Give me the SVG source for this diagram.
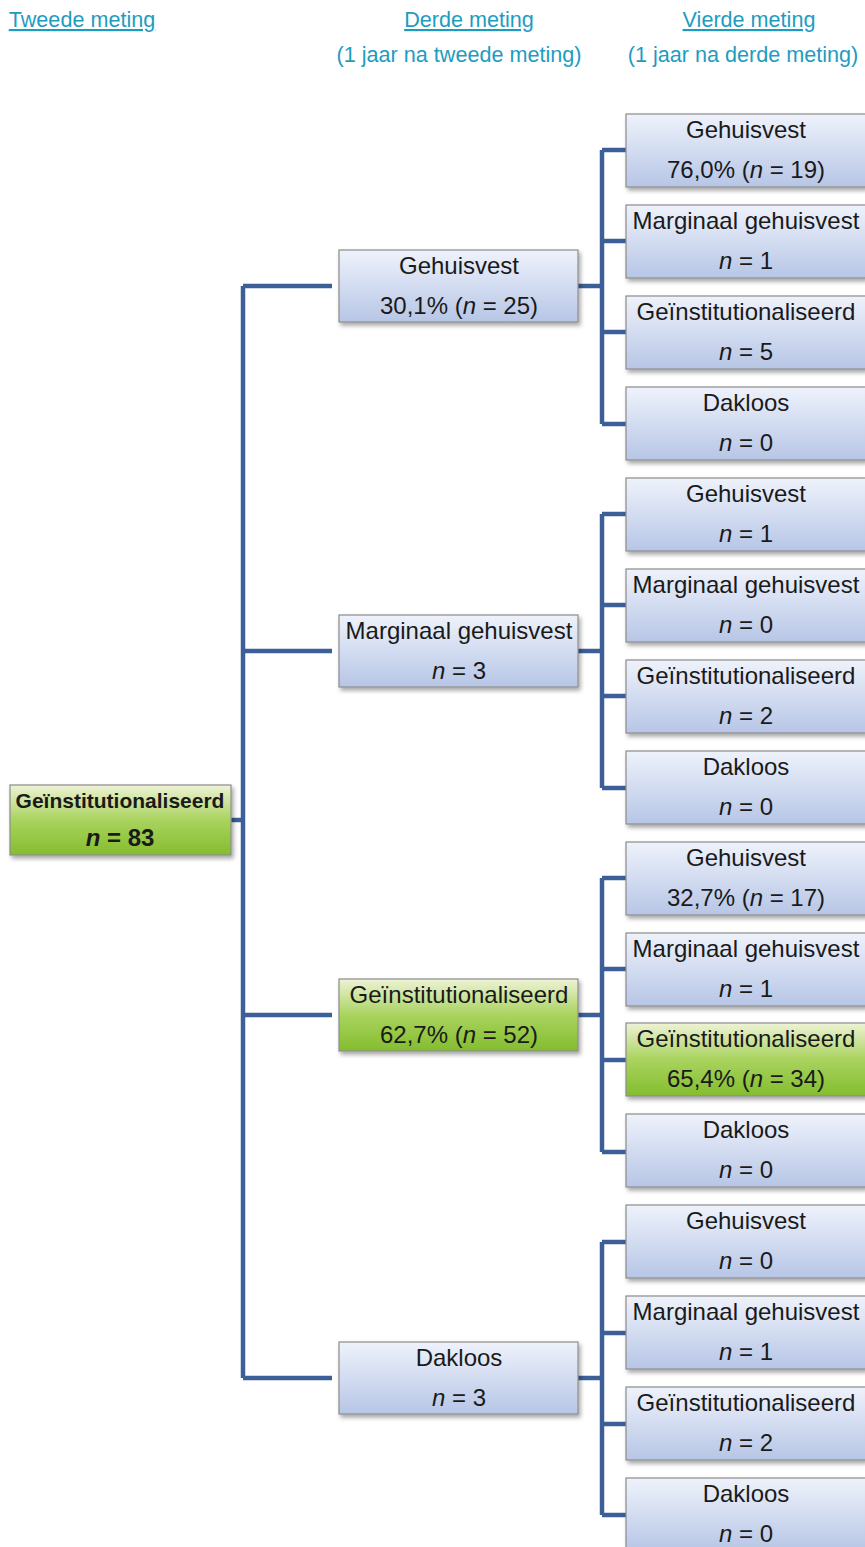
<svg xmlns="http://www.w3.org/2000/svg" width="865" height="1547" viewBox="0 0 865 1547">
<style>
.hd{font-family:"Liberation Sans",Arial,sans-serif;font-size:21.6px;fill:#1e9cc0;text-anchor:middle}
.u{text-decoration:underline}
.t{font-family:"Liberation Sans",Arial,sans-serif;font-size:24px;fill:#1a1a1a;text-anchor:middle}
.b{font-weight:bold}
.rt{font-size:21px}
.i{font-style:italic}
.box{stroke:#8c8c8c;stroke-width:1.2;filter:url(#sh)}
.blue{fill:url(#gb)}
.green{fill:url(#gg)}
.c{fill:none;stroke:#3c5f98;stroke-width:4.5}
</style>
<defs>
<linearGradient id="gb" x1="0" y1="0" x2="0" y2="1"><stop offset="0" stop-color="#eef2fb"/><stop offset="1" stop-color="#b7c6e6"/></linearGradient>
<linearGradient id="gg" x1="0" y1="0" x2="0" y2="1"><stop offset="0" stop-color="#eef3d6"/><stop offset="0.5" stop-color="#a9d35e"/><stop offset="1" stop-color="#84bd2e"/></linearGradient>
<filter id="sh" x="-5%" y="-5%" width="115%" height="125%"><feDropShadow dx="2" dy="3" stdDeviation="2" flood-color="#000" flood-opacity="0.35"/></filter>
</defs>
<rect width="865" height="1547" fill="#fff"/>
<g id="headers">
<text class="hd u" x="82" y="27">Tweede meting</text>
<text class="hd u" x="469" y="27">Derde meting</text>
<text class="hd" x="459" y="62">(1 jaar na tweede meting)</text>
<text class="hd u" x="749" y="27">Vierde meting</text>
<text class="hd" x="743" y="62">(1 jaar na derde meting)</text>
</g>
<g id="connectors">
<path class="c" d="M231 820H243M243 286V1378M243 286H332M243 651H332M243 1015H332M243 1378H332"/>
<path class="c" d="M578 286H602M602 150V424M602 150H626M602 241H626M602 332H626M602 424H626"/>
<path class="c" d="M578 651H602M602 514V788M602 514H626M602 605H626M602 696H626M602 788H626"/>
<path class="c" d="M578 1015H602M602 878V1152M602 878H626M602 969H626M602 1060H626M602 1152H626"/>
<path class="c" d="M578 1378H602M602 1242V1515M602 1242H626M602 1333H626M602 1424H626M602 1515H626"/>
</g>
<g id="root"><rect class="box green" x="10" y="785" width="221" height="70"/><text class="t b rt" x="120" y="808">Geïnstitutionaliseerd</text><text class="t b" x="120" y="846"><tspan class="i">n</tspan> = 83</text></g>
<g id="d1"><rect class="box blue" x="339" y="250" width="239" height="72"/><text class="t" x="459" y="274">Gehuisvest</text><text class="t" x="459" y="314">30,1% (<tspan class="i">n</tspan> = 25)</text></g>
<g id="d2"><rect class="box blue" x="339" y="615" width="239" height="72"/><text class="t" x="459" y="639">Marginaal gehuisvest</text><text class="t" x="459" y="679"><tspan class="i">n</tspan> = 3</text></g>
<g id="d3"><rect class="box green" x="339" y="979" width="239" height="72"/><text class="t" x="459" y="1003">Geïnstitutionaliseerd</text><text class="t" x="459" y="1043">62,7% (<tspan class="i">n</tspan> = 52)</text></g>
<g id="d4"><rect class="box blue" x="339" y="1342" width="239" height="72"/><text class="t" x="459" y="1366">Dakloos</text><text class="t" x="459" y="1406"><tspan class="i">n</tspan> = 3</text></g>
<g id="v1a"><rect class="box blue" x="626" y="114" width="240" height="73"/><text class="t" x="746" y="138">Gehuisvest</text><text class="t" x="746" y="178">76,0% (<tspan class="i">n</tspan> = 19)</text></g>
<g id="v1b"><rect class="box blue" x="626" y="205" width="240" height="73"/><text class="t" x="746" y="229">Marginaal gehuisvest</text><text class="t" x="746" y="269"><tspan class="i">n</tspan> = 1</text></g>
<g id="v1c"><rect class="box blue" x="626" y="296" width="240" height="73"/><text class="t" x="746" y="320">Geïnstitutionaliseerd</text><text class="t" x="746" y="360"><tspan class="i">n</tspan> = 5</text></g>
<g id="v1d"><rect class="box blue" x="626" y="387" width="240" height="73"/><text class="t" x="746" y="411">Dakloos</text><text class="t" x="746" y="451"><tspan class="i">n</tspan> = 0</text></g>
<g id="v2a"><rect class="box blue" x="626" y="478" width="240" height="73"/><text class="t" x="746" y="502">Gehuisvest</text><text class="t" x="746" y="542"><tspan class="i">n</tspan> = 1</text></g>
<g id="v2b"><rect class="box blue" x="626" y="569" width="240" height="73"/><text class="t" x="746" y="593">Marginaal gehuisvest</text><text class="t" x="746" y="633"><tspan class="i">n</tspan> = 0</text></g>
<g id="v2c"><rect class="box blue" x="626" y="660" width="240" height="73"/><text class="t" x="746" y="684">Geïnstitutionaliseerd</text><text class="t" x="746" y="724"><tspan class="i">n</tspan> = 2</text></g>
<g id="v2d"><rect class="box blue" x="626" y="751" width="240" height="73"/><text class="t" x="746" y="775">Dakloos</text><text class="t" x="746" y="815"><tspan class="i">n</tspan> = 0</text></g>
<g id="v3a"><rect class="box blue" x="626" y="842" width="240" height="73"/><text class="t" x="746" y="866">Gehuisvest</text><text class="t" x="746" y="906">32,7% (<tspan class="i">n</tspan> = 17)</text></g>
<g id="v3b"><rect class="box blue" x="626" y="933" width="240" height="73"/><text class="t" x="746" y="957">Marginaal gehuisvest</text><text class="t" x="746" y="997"><tspan class="i">n</tspan> = 1</text></g>
<g id="v3c"><rect class="box green" x="626" y="1023" width="240" height="73"/><text class="t" x="746" y="1047">Geïnstitutionaliseerd</text><text class="t" x="746" y="1087">65,4% (<tspan class="i">n</tspan> = 34)</text></g>
<g id="v3d"><rect class="box blue" x="626" y="1114" width="240" height="73"/><text class="t" x="746" y="1138">Dakloos</text><text class="t" x="746" y="1178"><tspan class="i">n</tspan> = 0</text></g>
<g id="v4a"><rect class="box blue" x="626" y="1205" width="240" height="73"/><text class="t" x="746" y="1229">Gehuisvest</text><text class="t" x="746" y="1269"><tspan class="i">n</tspan> = 0</text></g>
<g id="v4b"><rect class="box blue" x="626" y="1296" width="240" height="73"/><text class="t" x="746" y="1320">Marginaal gehuisvest</text><text class="t" x="746" y="1360"><tspan class="i">n</tspan> = 1</text></g>
<g id="v4c"><rect class="box blue" x="626" y="1387" width="240" height="73"/><text class="t" x="746" y="1411">Geïnstitutionaliseerd</text><text class="t" x="746" y="1451"><tspan class="i">n</tspan> = 2</text></g>
<g id="v4d"><rect class="box blue" x="626" y="1478" width="240" height="73"/><text class="t" x="746" y="1502">Dakloos</text><text class="t" x="746" y="1542"><tspan class="i">n</tspan> = 0</text></g>
</svg>
